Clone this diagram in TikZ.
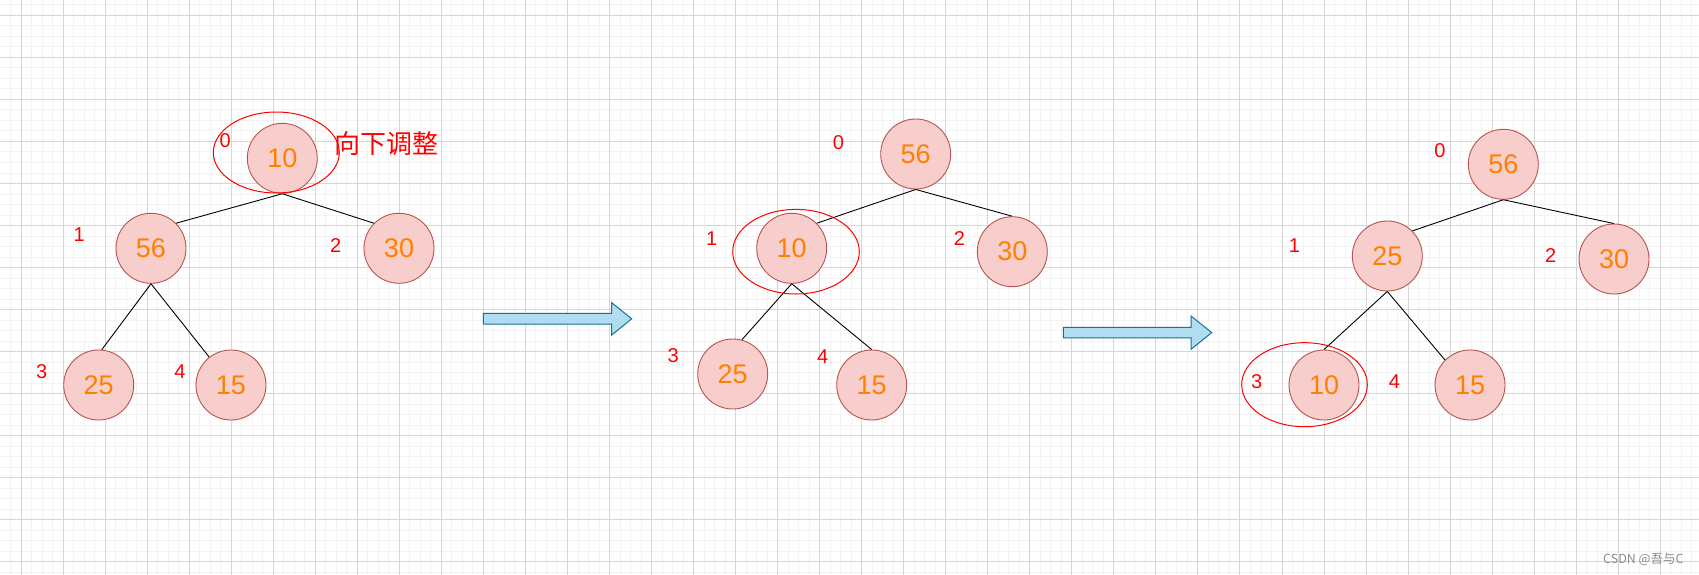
\documentclass[tikz,border=0pt]{standalone}
\usepackage{fontspec}
\setmainfont{Liberation Sans}
\newfontfamily\cjk{Noto Sans CJK SC}

\definecolor{nodefill}{HTML}{F8CECC}
\definecolor{nodeline}{HTML}{B85450}
\definecolor{valtext}{HTML}{FF8000}
\definecolor{idxred}{HTML}{FF0000}
\definecolor{arrowfill}{HTML}{B1DDF0}
\definecolor{arrowline}{HTML}{10739E}
\definecolor{gridminor}{HTML}{F3F3F3}
\definecolor{gridmajor}{HTML}{D6D6D6}
\definecolor{wmgray}{HTML}{8C8C8C}

\tikzset{
	heap/.style={circle, draw=nodeline, fill=nodefill, line width=0.9pt, minimum size=70pt, text=valtext, font=\fontsize{27}{32}\selectfont},
	idx/.style={text=idxred, font=\fontsize{20}{24}\selectfont},
	hilite/.style={draw=idxred, line width=1pt},
	shiftarrow/.style={draw=arrowline, fill=arrowfill, line width=1pt, line join=miter}
}

\begin{document}
\begin{tikzpicture}[x=1pt,y=1pt]
		\tikzstyle{every node}+=[inner sep=0pt]
		\useasboundingbox (0,0) rectangle (1699,-575);
		% grid
		\fill [white] (0,0) rectangle (1699,-575);
		\foreach \k in {-1,...,159}
			\draw [gridminor, line width=0.8pt] ({21+10.5075*\k},0) -- ({21+10.5075*\k},-575);
		\foreach \k in {-1,...,53}
			\draw [gridminor, line width=0.8pt] (0,{-15.3-10.5075*\k}) -- (1699,{-15.3-10.5075*\k});
		\foreach \k in {0,...,39}
			\draw [gridmajor, line width=0.8pt] ({21+42.03*\k},0) -- ({21+42.03*\k},-575);
		\foreach \k in {0,...,13}
			\draw [gridmajor, line width=0.8pt] (0,{-15.3-42.03*\k}) -- (1699,{-15.3-42.03*\k});
		% first heap
		\draw (282.3,-158.3) node [heap] (a0) {10};
		\draw (151,-248.3) node [heap] (a1) {56};
		\draw (399,-248.3) node [heap] (a2) {30};
		\draw (98.7,-385) node [heap] (a3) {25};
		\draw (231,-385) node [heap] (a4) {15};
		\draw (225.3,-140.7) node [idx] (ia0) {0};
		\draw (79.3,-235) node [idx] (ia1) {1};
		\draw (335.7,-245.7) node [idx] (ia2) {2};
		\draw (41.7,-371.7) node [idx] (ia3) {3};
		\draw (180,-371.7) node [idx] (ia4) {4};
		\draw [black, line width=0.9pt] (a0.south) -- (a1.north east);
		\draw [black, line width=0.9pt] (a0.south) -- (a2.north west);
		\draw [black, line width=0.9pt] (a1.south) -- (a3.85);
		\draw [black, line width=0.9pt] (a1.south) -- (a4.128);
		\draw [hilite] (276.3,-152.5) ellipse (63 and 40.5);
		\draw (386.7,-143.3) node [text=idxred, font=\cjk\fontsize{26}{30}\selectfont] (note) {向下调整};
		% arrow
		\draw [shiftarrow] (483.3,-313.3) -- (611.7,-313.3) -- (611.7,-302.7) -- (631.7,-318.8) -- (611.7,-335) -- (611.7,-324.2) -- (483.3,-324.2) -- cycle;
		% second heap
		\draw (915.7,-154) node [heap] (b0) {56};
		\draw (791.7,-248.3) node [heap] (b1) {10};
		\draw (1012.3,-251.7) node [heap] (b2) {30};
		\draw (732.7,-374) node [heap] (b3) {25};
		\draw (871.7,-385) node [heap] (b4) {15};
		\draw (838.3,-142.7) node [idx] (ib0) {0};
		\draw (711.7,-238.3) node [idx] (ib1) {1};
		\draw (959.3,-238.3) node [idx] (ib2) {2};
		\draw (673.3,-356) node [idx] (ib3) {3};
		\draw (822.7,-356.7) node [idx] (ib4) {4};
		\draw [black, line width=0.9pt] (b0.south) -- (b1.north east);
		\draw [black, line width=0.9pt] (b0.south) -- (b2.north);
		\draw [black, line width=0.9pt] (b1.south) -- (b3.75);
		\draw [black, line width=0.9pt] (b1.south) -- (b4.north);
		\draw [hilite] (796,-251.7) ellipse (63.3 and 42.3);
		% arrow
		\draw [shiftarrow] (1063.3,-327.3) -- (1191,-327.3) -- (1191,-316) -- (1211.7,-332.6) -- (1191,-349.3) -- (1191,-337.8) -- (1063.3,-337.8) -- cycle;
		% third heap
		\draw (1503.3,-164.3) node [heap] (c0) {56};
		\draw (1387.3,-256) node [heap] (c1) {25};
		\draw (1614,-259) node [heap] (c2) {30};
		\draw (1324,-385) node [heap] (c3) {10};
		\draw (1470,-385) node [heap] (c4) {15};
		\draw (1440,-150.7) node [idx] (ic0) {0};
		\draw (1294.3,-246) node [idx] (ic1) {1};
		\draw (1550.7,-255.7) node [idx] (ic2) {2};
		\draw (1256.7,-381.7) node [idx] (ic3) {3};
		\draw (1394.3,-381.7) node [idx] (ic4) {4};
		\draw [black, line width=0.9pt] (c0.south) -- (c1.north east);
		\draw [black, line width=0.9pt] (c0.south) -- (c2.north);
		\draw [black, line width=0.9pt] (c1.south) -- (c3.north);
		\draw [black, line width=0.9pt] (c1.south) -- (c4.north west);
		\draw [hilite] (1304.5,-384.7) ellipse (62.8 and 42);
		% watermark
		\draw (1643.3,-559.3) node [text=wmgray, font=\cjk\fontsize{12.5}{14}\selectfont] (wm) {CSDN @吾与C};
	\end{tikzpicture}
\end{document}
